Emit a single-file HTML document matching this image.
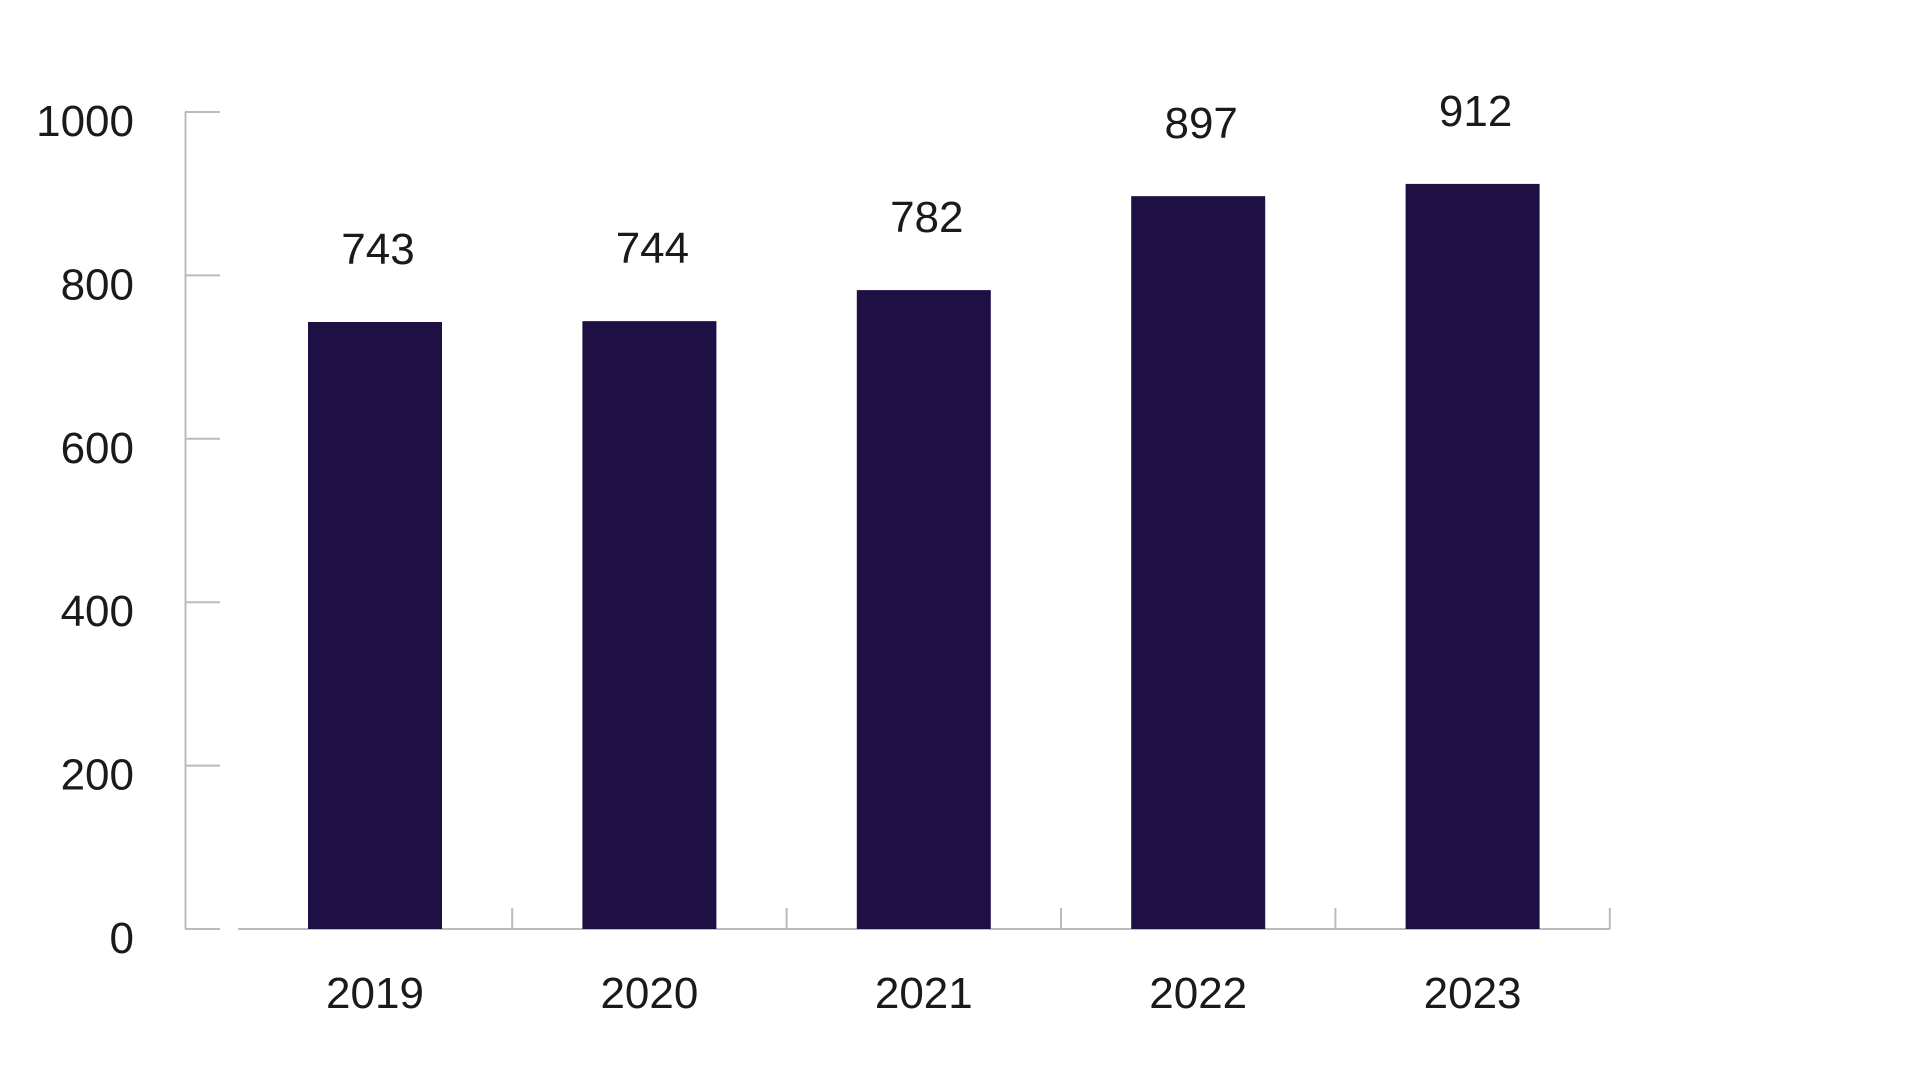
<!DOCTYPE html>
<html><head><meta charset="utf-8"><style>
html,body{margin:0;padding:0;background:#fff;}
svg{display:block;font-family:"Liberation Sans",sans-serif;}
</style></head><body>
<svg id="chart" width="1920" height="1080" viewBox="0 0 1920 1080"></svg>
<script>
const categories = ["2019","2020","2021","2022","2023"];
const values = [743,744,782,897,912];
const yTicks = [0,200,400,600,800,1000];
const NS="http://www.w3.org/2000/svg";
const svg=document.getElementById('chart');
const y0=929, y1=112, yMax=1000;
const yScale=v=>y0-(v/yMax)*(y0-y1);
const firstCenter=375, step=274.4, barW=134;
const xScale=i=>firstCenter+i*step;
function mk(tag,attrs){const e=document.createElementNS(NS,tag);for(const k in attrs)e.setAttribute(k,attrs[k]);svg.appendChild(e);return e;}
// y axis
let ax=mk('line',{x1:185.5,y1:y1,x2:185.5,y2:y0,stroke:'#bbb','stroke-width':2});


yTicks.forEach(t=>{
  const y=yScale(t);
  const l=mk('line',{x1:185,y1:y,x2:220,y2:y,stroke:'#bbb','stroke-width':2});
  
  
  const tx=mk('text',{x:134,y:y+24,'text-anchor':'end','font-size':44,fill:'#1a1a1a'});
  tx.textContent=t;
  
  
});
// x axis
const xEnd=xScale(categories.length-1)+step/2;
let bx=mk('line',{x1:238,y1:y0,x2:xEnd,y2:y0,stroke:'#bbb','stroke-width':2});


categories.forEach((c,i)=>{
  const cx=xScale(i);
  const tk=mk('line',{x1:cx+step/2,y1:y0,x2:cx+step/2,y2:y0-21,stroke:'#bbb','stroke-width':2});
  
  
  const top=yScale(values[i]);
  const r=mk('rect',{x:cx-barW/2,y:top,width:barW,height:y0-top,fill:'#1e0f45'});
  
  
  const vl=mk('text',{x:cx+3,y:top-58,'text-anchor':'middle','font-size':44,fill:'#1a1a1a'});
  vl.textContent=values[i];
  
  
  const xl=mk('text',{x:cx,y:1008,'text-anchor':'middle','font-size':44,fill:'#1a1a1a'});
  xl.textContent=c;
  
  
});
</script>
</body></html>
